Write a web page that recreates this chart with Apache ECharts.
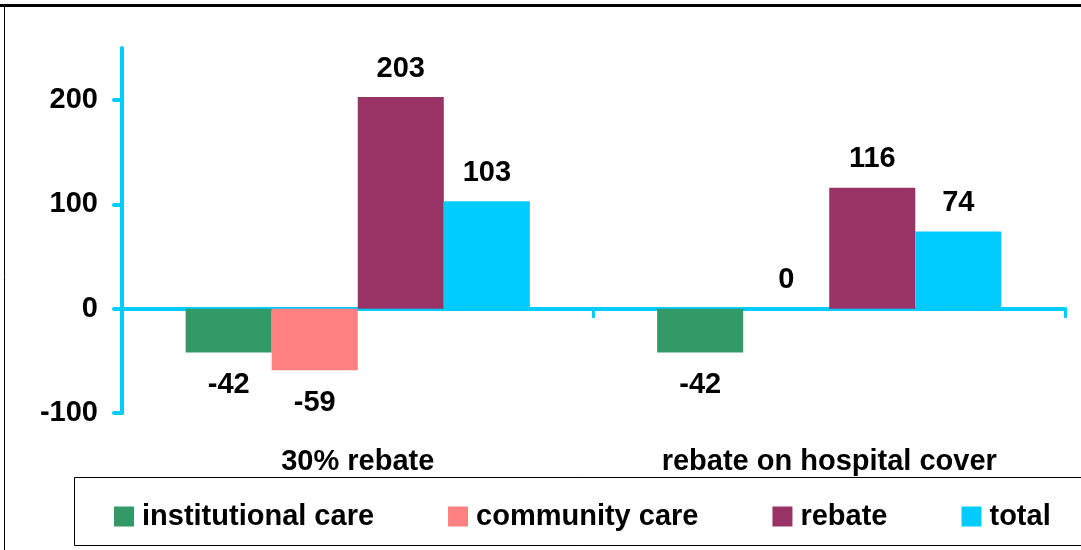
<!DOCTYPE html>
<html>
<head>
<meta charset="utf-8">
<script src="https://cdn.jsdelivr.net/npm/echarts@6/dist/echarts.min.js"></script>
<style>
  html, body { margin: 0; padding: 0; background: #fff; }
  #chart { width: 1081px; height: 550px; }
</style>
</head>
<body>
<div id="chart"></div>
<script>
const categories = ['30% rebate', 'rebate on hospital cover']
const seriesNames = ['institutional care', 'community care', 'rebate', 'total']
const institutionalCare = [-42, -42]
const communityCare = [-59, 0]
const rebate = [203, 116]
const total = [103, 74]
const yTicks = [-100, 0, 100, 200]

const colors = ['#339966', '#FF8080', '#993366', '#00CCFF']
const font = "'Liberation Sans', Arial, sans-serif"
const axisBlue = '#00CCFF'

const chart = echarts.init(document.getElementById('chart'), null, { renderer: 'canvas' })

function makeSeries(name, values, i) {
  return {
    name,
    type: 'bar',
    xAxisIndex: 0,
    barGap: '0%',
    barCategoryGap: '27%',
    itemStyle: { color: colors[i] },
    data: values.map((v) => ({
      value: v,
      // negative bars get their label underneath
      label: v < 0 ? { position: 'bottom', distance: 18 } : { position: 'top', distance: 14 },
    })),
    label: {
      show: true,
      color: '#000',
      fontFamily: font,
      fontWeight: 'bold',
      fontSize: 29,
    },
  }
}

chart.setOption({
  animation: false,
  color: colors,
  grid: { left: 122, right: 16, top: 48, bottom: 137, containLabel: false },
  xAxis: [
    {
      type: 'category',
      data: categories,
      axisLine: { onZero: true, lineStyle: { color: axisBlue, width: 4, cap: 'round' } },
      axisTick: { show: true, length: 8, lineStyle: { color: axisBlue, width: 3, cap: 'round' } },
      axisLabel: { show: false },
      splitLine: { show: false },
    },
    {
      type: 'category',
      data: categories,
      position: 'bottom',
      axisLine: { show: false, onZero: false },
      axisTick: { show: false },
      axisLabel: {
        margin: 34,
        color: '#000',
        fontFamily: font,
        fontWeight: 'bold',
        fontSize: 29,
      },
    },
  ],
  yAxis: {
    type: 'value',
    min: -100,
    max: 250,
    interval: 50,
    axisLine: { show: true, lineStyle: { color: axisBlue, width: 4, cap: 'round' } },
    axisTick: { show: true, length: 8, customValues: yTicks, lineStyle: { color: axisBlue, width: 4, cap: 'round' } },
    axisLabel: {
      customValues: yTicks,
      margin: 24,
      color: '#000',
      fontFamily: font,
      fontWeight: 'bold',
      fontSize: 29,
    },
    splitLine: { show: false },
  },
  legend: {
    data: seriesNames,
    left: 109,
    top: 497,
    itemWidth: 20,
    itemHeight: 20,
    itemGap: 74,
    icon: 'rect',
    textStyle: {
      color: '#000',
      fontFamily: font,
      fontWeight: 'bold',
      fontSize: 29,
      padding: [0, 0, 0, 3],
    },
  },
  graphic: [
    { type: 'line', shape: { x1: 0, y1: 5.5, x2: 1081, y2: 5.5 }, style: { stroke: '#000', lineWidth: 3 } },
    { type: 'line', shape: { x1: 4.5, y1: 5, x2: 4.5, y2: 550 }, style: { stroke: '#000', lineWidth: 1 } },
    { type: 'rect', shape: { x: 74.5, y: 477.5, width: 1100, height: 68 }, style: { fill: 'none', stroke: '#000', lineWidth: 1 }, z: -1 },
  ],
  series: [
    makeSeries(seriesNames[0], institutionalCare, 0),
    makeSeries(seriesNames[1], communityCare, 1),
    makeSeries(seriesNames[2], rebate, 2),
    makeSeries(seriesNames[3], total, 3),
  ],
})
</script>
</body>
</html>
